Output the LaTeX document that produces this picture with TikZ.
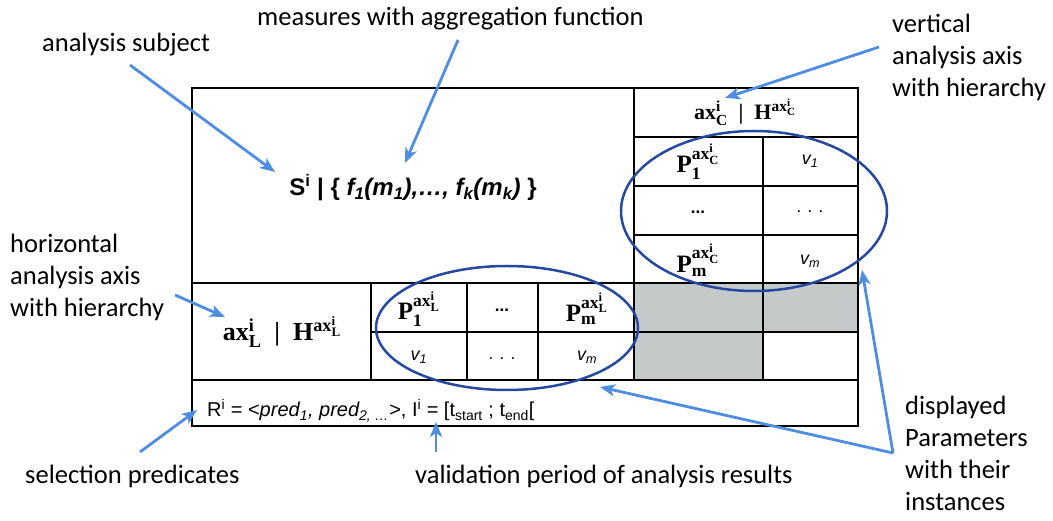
\documentclass[tikz,border=0pt]{standalone}
\usepackage{amsmath}
\usepackage{fontspec}
\usetikzlibrary{arrows.meta}
\newfontfamily\lblfont{Carlito}
\newfontfamily\arialf{Liberation Sans}
\newfontfamily\cambf{Liberation Serif}
\definecolor{arrowblue}{RGB}{79,141,226}
\definecolor{ellblue}{RGB}{38,72,158}
\definecolor{cellgray}{RGB}{196,202,201}
\newcommand{\axs}[1]{\text{ax}^{\text{i}}_{\text{#1}}}
\tikzset{
  lbl/.style={font=\lblfont\fontsize{26.5}{32}\selectfont, inner sep=0pt, anchor=base west, align=left},
  grid/.style={line width=1.2pt, black},
  ell/.style={draw=ellblue, line width=2.5pt},
  pointer/.style={draw=arrowblue, line width=2.8pt, -{Stealth[length=15pt,width=12pt,inset=4pt]}},
  serifb/.style={font=\cambf\bfseries\fontsize{25}{25}\selectfont, inner sep=0pt},
  vval/.style={font=\arialf\itshape\fontsize{18}{18}\selectfont, inner sep=0pt},
  dotsn/.style={font=\arialf\bfseries\fontsize{17}{17}\selectfont, inner sep=0pt}
}
\begin{document}
\begin{tikzpicture}[x=1pt,y=-1pt]
\useasboundingbox (0,0) rectangle (1053,521);
% gray cells
\fill[cellgray] (634,283) rectangle (858,332);
\fill[cellgray] (634,332) rectangle (763,380);
% grid
\draw[grid] (192,88) rectangle (858,426);
\draw[grid] (634,88) -- (634,380);
\draw[grid] (192,283) -- (858,283);
\draw[grid] (192,380) -- (858,380);
\draw[grid] (634,137) -- (858,137);
\draw[grid] (634,186) -- (858,186);
\draw[grid] (634,235) -- (858,235);
\draw[grid] (763,137) -- (763,380);
\draw[grid] (371,283) -- (371,380);
\draw[grid] (467,283) -- (467,380);
\draw[grid] (538,283) -- (538,380);
\draw[grid] (371,332) -- (858,332);
% table texts
\node[font=\arialf\bfseries\fontsize{24}{24}\selectfont, inner sep=0pt] (subjtxt) at (413,188)
  {S\textsuperscript{i} | \{ \textit{f\textsubscript{1}(m\textsubscript{1}),\ldots, f\textsubscript{k}(m\textsubscript{k})} \}};
\node[serifb, font=\cambf\bfseries\fontsize{22}{22}\selectfont] (axC) at (745,112)
  {$\axs{C}$\ \ |\ \ H$^{\axs{C}}$};
\node[serifb] (P1C) at (698,162) {P$^{\axs{C}}_{\text{1}}$};
\node[vval] (v1C) at (810,161) {v\textsubscript{1}};
\node[dotsn] (d1C) at (698,212) {...};
\node[dotsn, font=\arialf\fontsize{17}{17}\selectfont] (d2C) at (810,212) {. . .};
\node[serifb] (PmC) at (698,260) {P$^{\axs{C}}_{\text{m}}$};
\node[vval] (vmC) at (810,261) {v\textsubscript{m}};
\node[serifb, font=\cambf\bfseries\fontsize{26}{26}\selectfont] (axL) at (282,332)
  {$\axs{L}$\ \ |\ \ H$^{\axs{L}}$};
\node[serifb] (P1L) at (419,309) {P$^{\axs{L}}_{\text{1}}$};
\node[dotsn] (d1L) at (502,310) {...};
\node[serifb] (PmL) at (587,309) {P$^{\axs{L}}_{\text{m}}$};
\node[vval] (v1L) at (419,357) {v\textsubscript{1}};
\node[dotsn, font=\arialf\fontsize{17}{17}\selectfont] (d2L) at (502,359) {. . .};
\node[vval] (vmL) at (587,357) {v\textsubscript{m}};
\node[font=\arialf\fontsize{20}{20}\selectfont, inner sep=0pt, anchor=base west] (rtxt) at (207,417)
  {R\textsuperscript{i} = <\textit{pred\textsubscript{1}, pred\textsubscript{2, \ldots}}>, I\textsuperscript{i} = [t\textsubscript{start} ; t\textsubscript{end}[};
% ellipses
\draw[ell] (754,211) ellipse [x radius=133, y radius=80];
\draw[ell] (507,328) ellipse [x radius=131, y radius=62];
% labels
\node[lbl] (subj) at (42,52) {analysis subject};
\node[lbl] (meas) at (257,26) {measures with aggregation function};
\node[lbl] (vert) at (892,97) {vertical\\analysis axis\\with hierarchy};
\node[lbl] (horiz) at (10,317) {horizontal\\analysis axis\\with hierarchy};
\node[lbl] (params) at (905,510) {displayed\\Parameters\\with their\\instances};
\node[lbl] (sel) at (25,483) {selection predicates};
\node[lbl] (valid) at (415,483) {validation period of analysis results};
% arrow coordinates
\coordinate (subjS) at (130,65);   \coordinate (subjE) at (275,172);
\coordinate (measS) at (458,40);   \coordinate (measE) at (405,163);
\coordinate (vertS) at (879,47);   \coordinate (vertE) at (725,98);
\coordinate (horizS) at (175,295); \coordinate (horizE) at (225,317);
\coordinate (selS) at (140,452);   \coordinate (selE) at (197,410);
\coordinate (validS) at (436,452); \coordinate (validE) at (436,422);
\coordinate (parS) at (893,453);
\coordinate (parE1) at (862,270);  \coordinate (parE2) at (600,387);
\draw[pointer] (subjS) -- (subjE);
\draw[pointer] (measS) -- (measE);
\draw[pointer] (vertS) -- (vertE);
\draw[pointer] (horizS) -- (horizE);
\draw[pointer] (selS) -- (selE);
\draw[pointer] (validS) -- (validE);
\draw[pointer] (parS) -- (parE1);
\draw[pointer] (parS) -- (parE2);
\end{tikzpicture}
\end{document}
